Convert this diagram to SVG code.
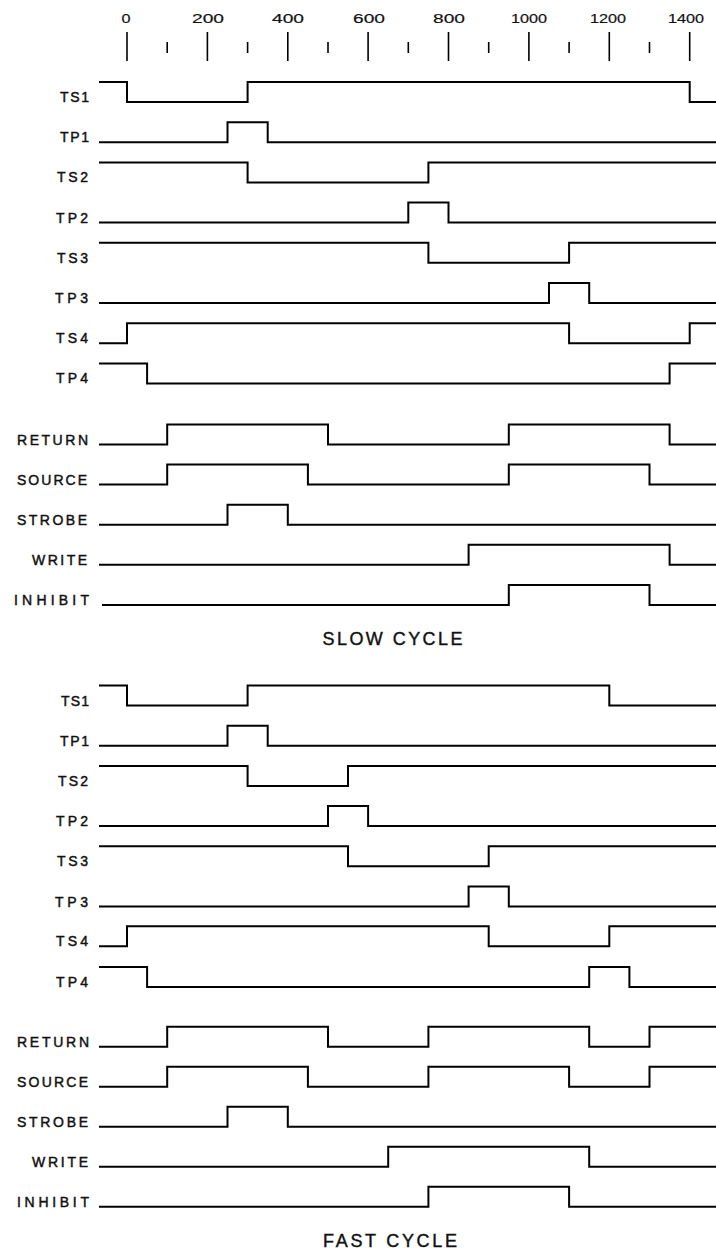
<svg xmlns="http://www.w3.org/2000/svg" width="716" height="1252" viewBox="0 0 716 1252">
<style>
.sig{fill:none;stroke:#000;stroke-width:2;stroke-linejoin:miter;stroke-linecap:butt}
.lbl{font-family:"Liberation Sans",Arial,sans-serif;font-size:14px;fill:#111;stroke:#111;stroke-width:0.45;text-anchor:end}
.num{font-family:"Liberation Sans",Arial,sans-serif;font-size:13px;fill:#111;stroke:#111;stroke-width:0.2;text-anchor:middle}
.ttl{font-family:"Liberation Sans",Arial,sans-serif;font-size:18px;fill:#111;stroke:#111;stroke-width:0.4;text-anchor:middle}
.tk{stroke:#000;stroke-width:1.6}
</style>
<rect width="716" height="1252" fill="#fff"/>
<g id="axis">
<g class="num">
<text x="126" y="23" textLength="9" lengthAdjust="spacingAndGlyphs">0</text>
<text x="208" y="23" textLength="32" lengthAdjust="spacingAndGlyphs">200</text>
<text x="288" y="23" textLength="32" lengthAdjust="spacingAndGlyphs">400</text>
<text x="369" y="23" textLength="32" lengthAdjust="spacingAndGlyphs">600</text>
<text x="449" y="23" textLength="32" lengthAdjust="spacingAndGlyphs">800</text>
<text x="529" y="23" textLength="36" lengthAdjust="spacingAndGlyphs">1000</text>
<text x="608" y="23" textLength="36" lengthAdjust="spacingAndGlyphs">1200</text>
<text x="686" y="23" textLength="36" lengthAdjust="spacingAndGlyphs">1400</text>
</g>
<g class="tk">
<line x1="127" y1="32" x2="127" y2="61"/>
<line x1="167.2" y1="42" x2="167.2" y2="53"/>
<line x1="207.4" y1="32" x2="207.4" y2="61"/>
<line x1="247.6" y1="42" x2="247.6" y2="53"/>
<line x1="287.8" y1="32" x2="287.8" y2="61"/>
<line x1="328" y1="42" x2="328" y2="53"/>
<line x1="368.1" y1="32" x2="368.1" y2="61"/>
<line x1="408.3" y1="42" x2="408.3" y2="53"/>
<line x1="448.5" y1="32" x2="448.5" y2="61"/>
<line x1="488.7" y1="42" x2="488.7" y2="53"/>
<line x1="528.9" y1="32" x2="528.9" y2="61"/>
<line x1="569.1" y1="42" x2="569.1" y2="53"/>
<line x1="609.3" y1="32" x2="609.3" y2="61"/>
<line x1="649.5" y1="42" x2="649.5" y2="53"/>
<line x1="689.7" y1="32" x2="689.7" y2="61"/>
</g>
</g>

<g id="slow">
<g id="slow-ts1"><text class="lbl" x="89" y="102" textLength="29" lengthAdjust="spacing">TS1</text><path class="sig" d="M99 82 H127 V102 H247.6 V82 H689.7 V102 H716"/></g>
<g id="slow-tp1"><text class="lbl" x="89" y="142.2" textLength="29" lengthAdjust="spacing">TP1</text><path class="sig" d="M99 142.2 H227.5 V122.2 H267.7 V142.2 H716"/></g>
<g id="slow-ts2"><text class="lbl" x="88" y="182.4" textLength="31" lengthAdjust="spacing">TS2</text><path class="sig" d="M99 162.4 H247.6 V182.4 H428.4 V162.4 H716"/></g>
<g id="slow-tp2"><text class="lbl" x="88" y="222.6" textLength="32" lengthAdjust="spacing">TP2</text><path class="sig" d="M99 222.6 H408.3 V202.6 H448.5 V222.6 H716"/></g>
<g id="slow-ts3"><text class="lbl" x="88" y="262.8" textLength="31" lengthAdjust="spacing">TS3</text><path class="sig" d="M99 242.8 H428.4 V262.8 H569.1 V242.8 H716"/></g>
<g id="slow-tp3"><text class="lbl" x="88" y="303" textLength="33" lengthAdjust="spacing">TP3</text><path class="sig" d="M99 303 H549 V283 H589.2 V303 H716"/></g>
<g id="slow-ts4"><text class="lbl" x="88" y="343.2" textLength="32" lengthAdjust="spacing">TS4</text><path class="sig" d="M99 343.2 H127 V323.2 H569.1 V343.2 H689.7 V323.2 H716"/></g>
<g id="slow-tp4"><text class="lbl" x="88" y="383.4" textLength="32" lengthAdjust="spacing">TP4</text><path class="sig" d="M99 363.4 H147.1 V383.4 H669.6 V363.4 H716"/></g>
<g id="slow-return"><text class="lbl" x="88" y="444.5" textLength="71" lengthAdjust="spacing">RETURN</text><path class="sig" d="M99 444.5 H167.2 V424.5 H328 V444.5 H508.8 V424.5 H669.6 V444.5 H716"/></g>
<g id="slow-source"><text class="lbl" x="87" y="484.6" textLength="70" lengthAdjust="spacing">SOURCE</text><path class="sig" d="M99 484.6 H167.2 V464.6 H307.9 V484.6 H508.8 V464.6 H649.5 V484.6 H716"/></g>
<g id="slow-strobe"><text class="lbl" x="87" y="524.7" textLength="70" lengthAdjust="spacing">STROBE</text><path class="sig" d="M99 524.7 H227.5 V504.7 H287.8 V524.7 H716"/></g>
<g id="slow-write"><text class="lbl" x="87" y="564.8" textLength="55" lengthAdjust="spacing">WRITE</text><path class="sig" d="M99 564.8 H468.6 V544.8 H669.6 V564.8 H716"/></g>
<g id="slow-inhibit"><text class="lbl" x="89" y="604.9" textLength="75" lengthAdjust="spacing">INHIBIT</text><path class="sig" d="M102 604.9 H508.8 V584.9 H649.5 V604.9 H716"/></g>
<text id="slow-title" class="ttl" x="392.5" y="645" textLength="140" lengthAdjust="spacing">SLOW CYCLE</text>
</g>

<g id="fast">
<g id="fast-ts1"><text class="lbl" x="89" y="705.5" textLength="28" lengthAdjust="spacing">TS1</text><path class="sig" d="M99 685.5 H127 V705.5 H247.6 V685.5 H609.3 V705.5 H716"/></g>
<g id="fast-tp1"><text class="lbl" x="89" y="745.7" textLength="29" lengthAdjust="spacing">TP1</text><path class="sig" d="M99 745.7 H227.5 V725.7 H267.7 V745.7 H716"/></g>
<g id="fast-ts2"><text class="lbl" x="88" y="785.9" textLength="30" lengthAdjust="spacing">TS2</text><path class="sig" d="M99 765.9 H247.6 V785.9 H348 V765.9 H716"/></g>
<g id="fast-tp2"><text class="lbl" x="88" y="826.1" textLength="32" lengthAdjust="spacing">TP2</text><path class="sig" d="M99 826.1 H328 V806.1 H368.1 V826.1 H716"/></g>
<g id="fast-ts3"><text class="lbl" x="88" y="866.3" textLength="31" lengthAdjust="spacing">TS3</text><path class="sig" d="M99 846.3 H348 V866.3 H488.7 V846.3 H716"/></g>
<g id="fast-tp3"><text class="lbl" x="88" y="906.5" textLength="33" lengthAdjust="spacing">TP3</text><path class="sig" d="M99 906.5 H468.6 V886.5 H508.8 V906.5 H716"/></g>
<g id="fast-ts4"><text class="lbl" x="88" y="946.2" textLength="32" lengthAdjust="spacing">TS4</text><path class="sig" d="M99 946.2 H127 V926.2 H488.7 V946.2 H609.3 V926.2 H716"/></g>
<g id="fast-tp4"><text class="lbl" x="88" y="986.9" textLength="32" lengthAdjust="spacing">TP4</text><path class="sig" d="M99 966.9 H147.1 V986.9 H589.2 V966.9 H629.4 V986.9 H716"/></g>
<g id="fast-return"><text class="lbl" x="89" y="1046.7" textLength="72" lengthAdjust="spacing">RETURN</text><path class="sig" d="M99 1046.7 H167.2 V1026.7 H328 V1046.7 H428.4 V1026.7 H589.2 V1046.7 H649.5 V1026.7 H716"/></g>
<g id="fast-source"><text class="lbl" x="88" y="1086.7" textLength="71" lengthAdjust="spacing">SOURCE</text><path class="sig" d="M99 1086.7 H167.2 V1066.7 H307.9 V1086.7 H428.4 V1066.7 H569.1 V1086.7 H649.5 V1066.7 H716"/></g>
<g id="fast-strobe"><text class="lbl" x="88" y="1126.7" textLength="71" lengthAdjust="spacing">STROBE</text><path class="sig" d="M99 1126.7 H227.5 V1106.7 H287.8 V1126.7 H716"/></g>
<g id="fast-write"><text class="lbl" x="88" y="1166.7" textLength="56" lengthAdjust="spacing">WRITE</text><path class="sig" d="M99 1166.7 H388.2 V1146.7 H589.2 V1166.7 H716"/></g>
<g id="fast-inhibit"><text class="lbl" x="89" y="1206.7" textLength="72" lengthAdjust="spacing">INHIBIT</text><path class="sig" d="M99 1206.7 H428.4 V1186.7 H569.1 V1206.7 H716"/></g>
<text id="fast-title" class="ttl" x="390" y="1247" textLength="134" lengthAdjust="spacing">FAST CYCLE</text>
</g>
</svg>
